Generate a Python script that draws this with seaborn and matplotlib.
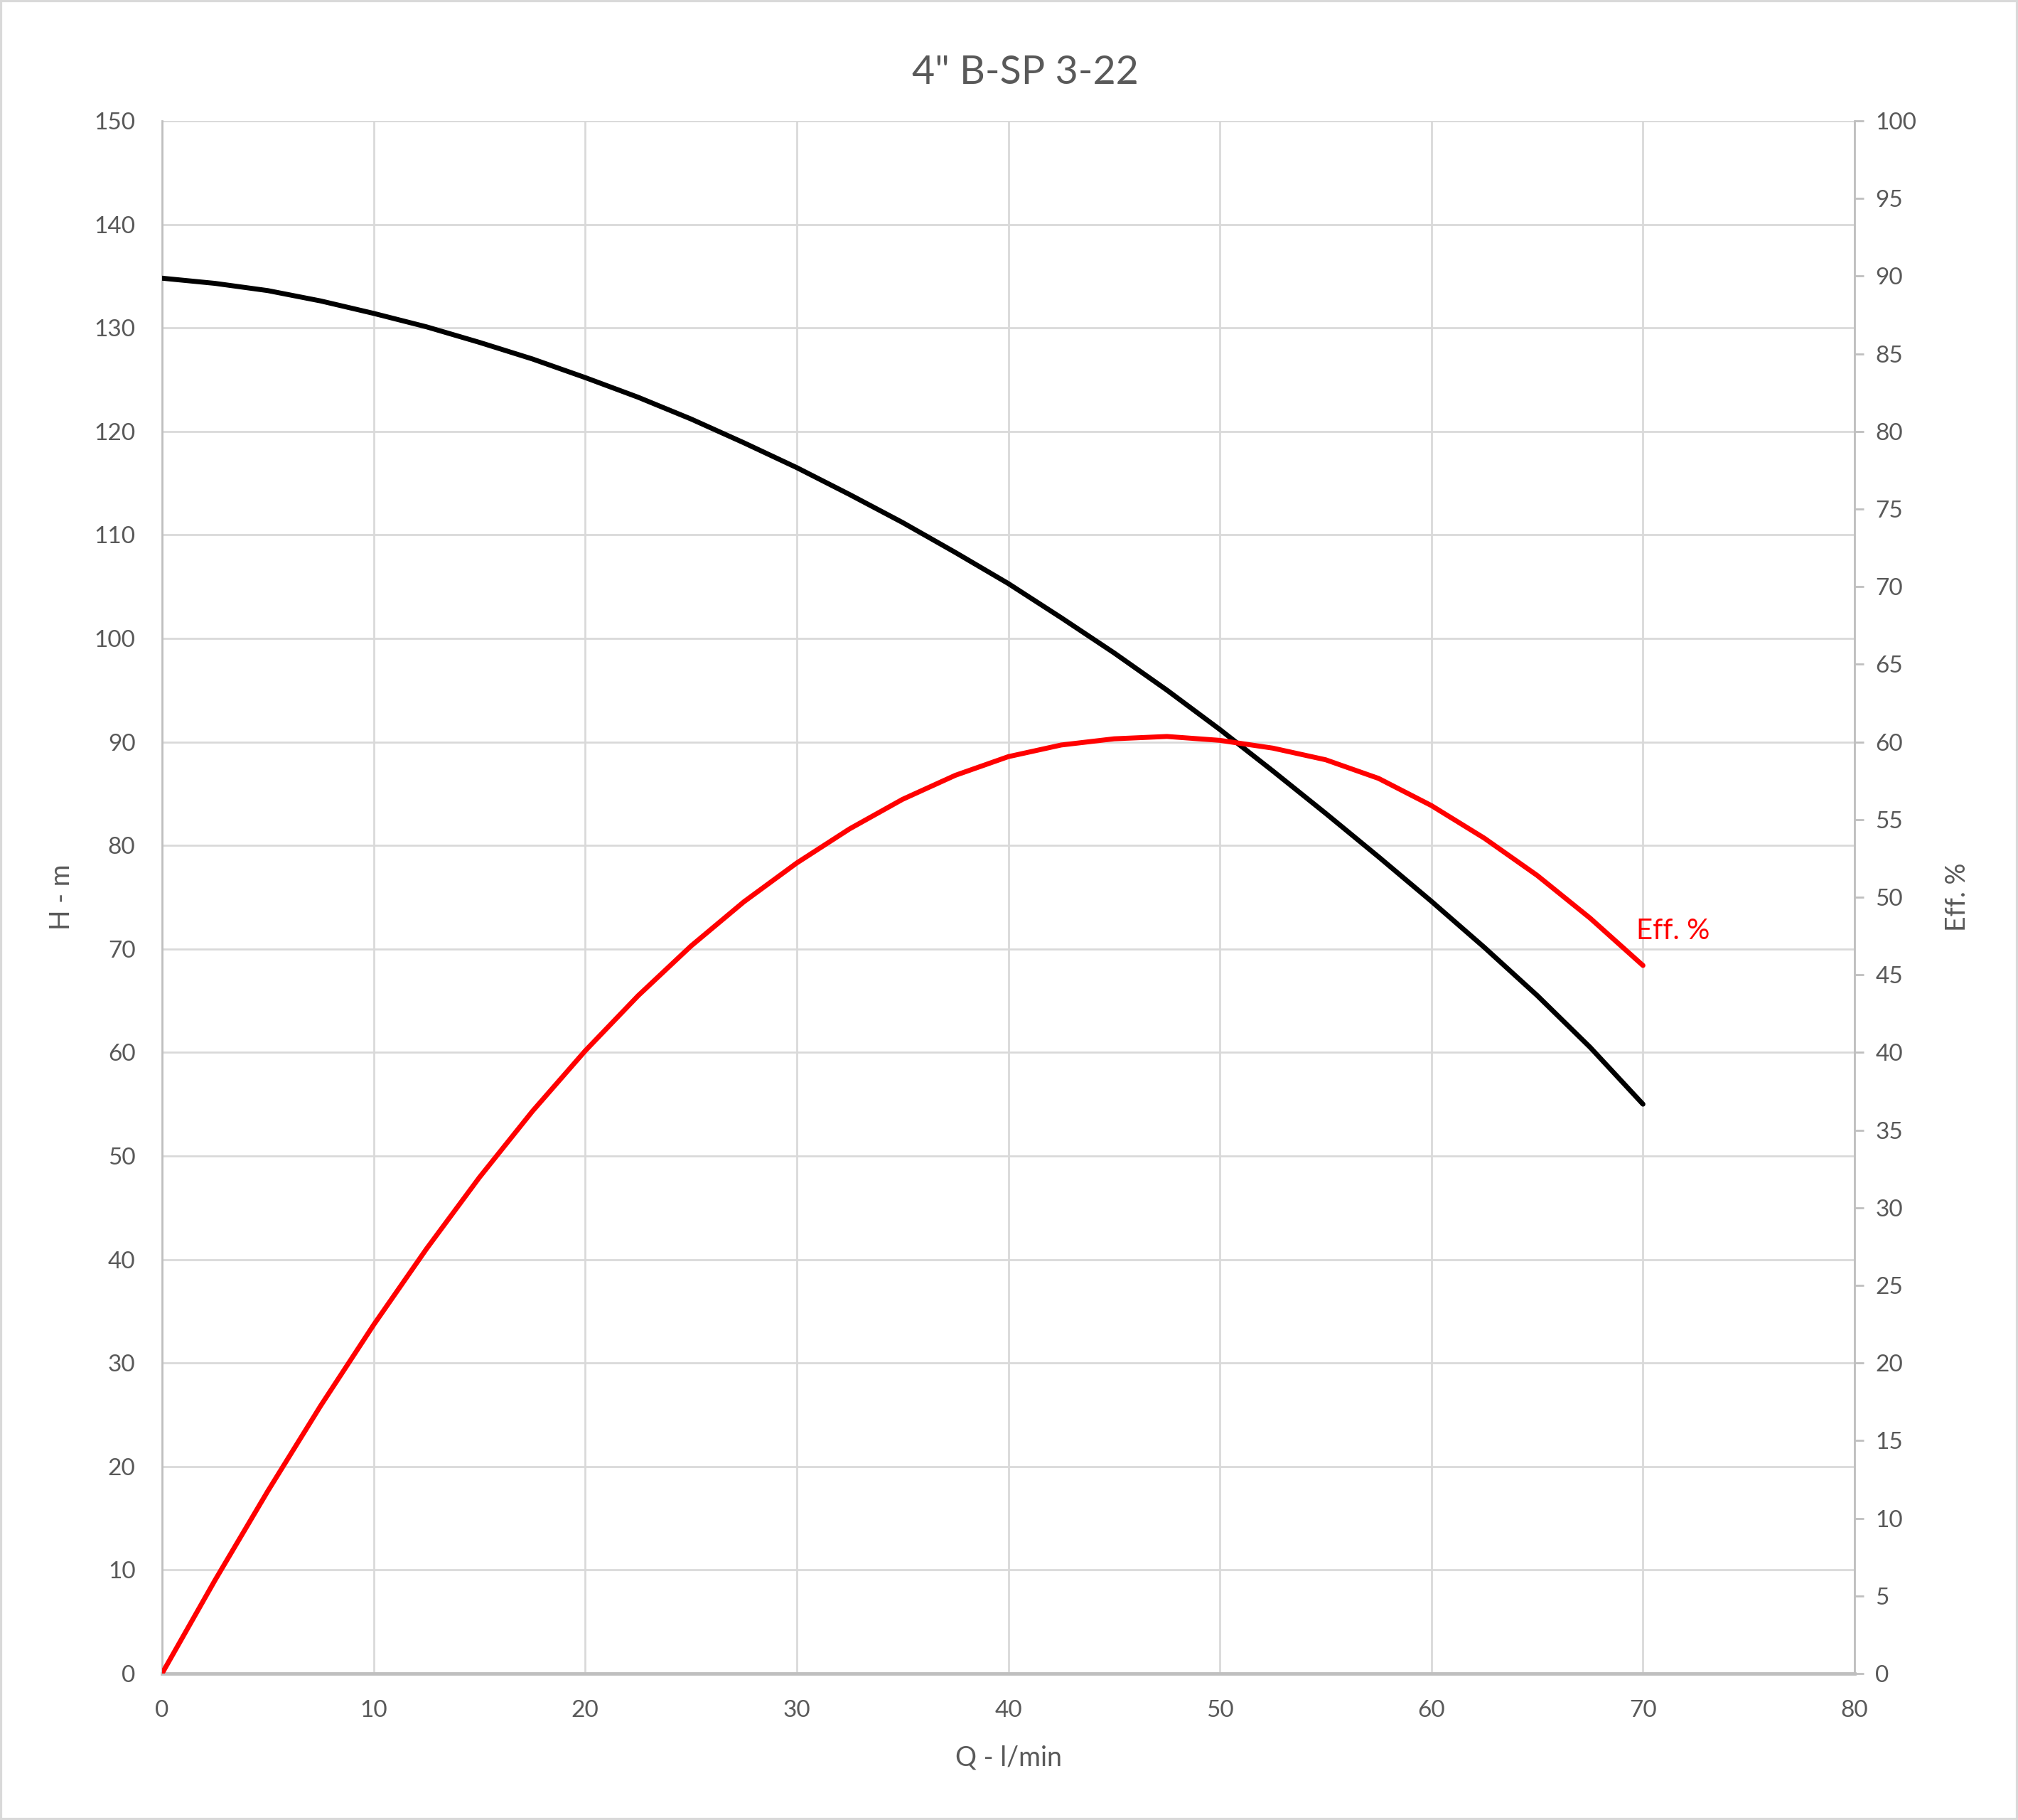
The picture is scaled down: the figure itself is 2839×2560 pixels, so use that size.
import matplotlib
matplotlib.use("Agg")
import matplotlib.pyplot as plt
from matplotlib.patches import Rectangle
import seaborn as sns
import pandas as pd

# flow (l/min) and curves
q_head = [0, 2.5, 5, 7.5, 10, 12.5, 15, 17.5, 20, 22.5, 25, 27.5, 30, 32.5, 35,
          37.5, 40, 42.5, 45, 47.5, 50, 52.5, 55, 57.5, 60, 62.5, 65, 67.5, 70]
head = [134.8, 134.3, 133.6, 132.6, 131.4, 130.1, 128.6, 127.0, 125.2, 123.3, 121.2,
        118.9, 116.5, 113.9, 111.2, 108.3, 105.3, 102.0, 98.6, 95.0, 91.2, 87.2,
        83.1, 78.9, 74.6, 70.15, 65.5, 60.5, 55.0]

q_eff = [0, 2.5, 5, 7.5, 10, 12.5, 15, 17.5, 20, 22.5, 25, 27.5, 30, 32.5, 35,
         37.5, 40, 42.5, 45, 47.5, 50, 52.5, 55, 57.5, 60, 62.5, 65, 67.5, 70]
eff = [0, 6.0, 11.75, 17.25, 22.45, 27.35, 31.95, 36.2, 40.1, 43.65, 46.85, 49.7,
       52.2, 54.4, 56.3, 57.85, 59.05, 59.8, 60.2, 60.35, 60.1, 59.6, 58.85, 57.65,
       55.9, 53.8, 51.4, 48.65, 45.6]

x_ticks = list(range(0, 81, 10))
h_ticks = list(range(0, 151, 10))
e_ticks = list(range(0, 101, 5))

sns.set_theme(style="white")
plt.rcParams['font.family'] = ['Lato', 'DejaVu Sans']

text_col = "#595959"
grid_col = "#d9d9d9"
axis_col = "#bfbfbf"

fig = plt.figure(figsize=(28.39, 25.6), dpi=100)
ax = fig.add_axes([0.0803, 0.0805, 0.9190 - 0.0803, 0.9336 - 0.0805])

df_h = pd.DataFrame({"Q": q_head, "H": head})
df_e = pd.DataFrame({"Q": q_eff, "Eff": eff})

sns.lineplot(data=df_h, x="Q", y="H", ax=ax, color="black", linewidth=5, zorder=3)
ax.set_xlim(0, 80)
ax.set_ylim(0, 150)
ax.set_xticks(x_ticks)
ax.set_yticks(h_ticks)
ax.grid(True, color=grid_col, linewidth=2)
ax.set_axisbelow(True)
ax.tick_params(axis="both", length=0, labelsize=24, colors=text_col, pad=27)
for s in ["top", "right"]:
    ax.spines[s].set_visible(False)
ax.spines["left"].set_color(axis_col)
ax.spines["left"].set_linewidth(2)
ax.spines["bottom"].set_color(axis_col)
ax.spines["bottom"].set_linewidth(3.5)

ax.set_xlabel("Q - l/min", fontsize=27, color=text_col)
ax.xaxis.set_label_coords(0.5, -0.0545)
ax.xaxis.label.set_va("center")
ax.set_ylabel("H - m", fontsize=27, color=text_col)
ax.yaxis.set_label_coords(-0.0592, 0.5)
ax.yaxis.label.set_va("center")

ax2 = ax.twinx()
sns.lineplot(data=df_e, x="Q", y="Eff", ax=ax2, color="#ff0000", linewidth=5, zorder=3)
ax2.set_ylim(0, 100)
ax2.set_yticks(e_ticks)
ax2.tick_params(axis="y", length=9, width=2, color=axis_col, labelsize=24,
                colors=text_col, pad=12, direction="out")
ax2.tick_params(axis="y", color=axis_col)
for s in ["top", "left", "bottom"]:
    ax2.spines[s].set_visible(False)
ax2.spines["right"].set_color(axis_col)
ax2.spines["right"].set_linewidth(2)
ax2.grid(False)
ax2.set_ylabel("Eff. %", fontsize=27, color=text_col)
ax2.yaxis.set_label_coords(1.061, 0.5)
ax2.yaxis.label.set_va("center")

ax2.text(69.7, 47.8, "Eff. %", color="#ff0000", fontsize=29, ha="left", va="center")

fig.text(0.508, 0.96, '4" B-SP 3-22', fontsize=40, color=text_col, ha="center", va="center")

fig.patches.append(Rectangle((0.0005, 0.0005), 0.999, 0.999, transform=fig.transFigure,
                             fill=False, edgecolor=grid_col, linewidth=3))

fig.savefig("out.png", dpi=100, facecolor="white")
